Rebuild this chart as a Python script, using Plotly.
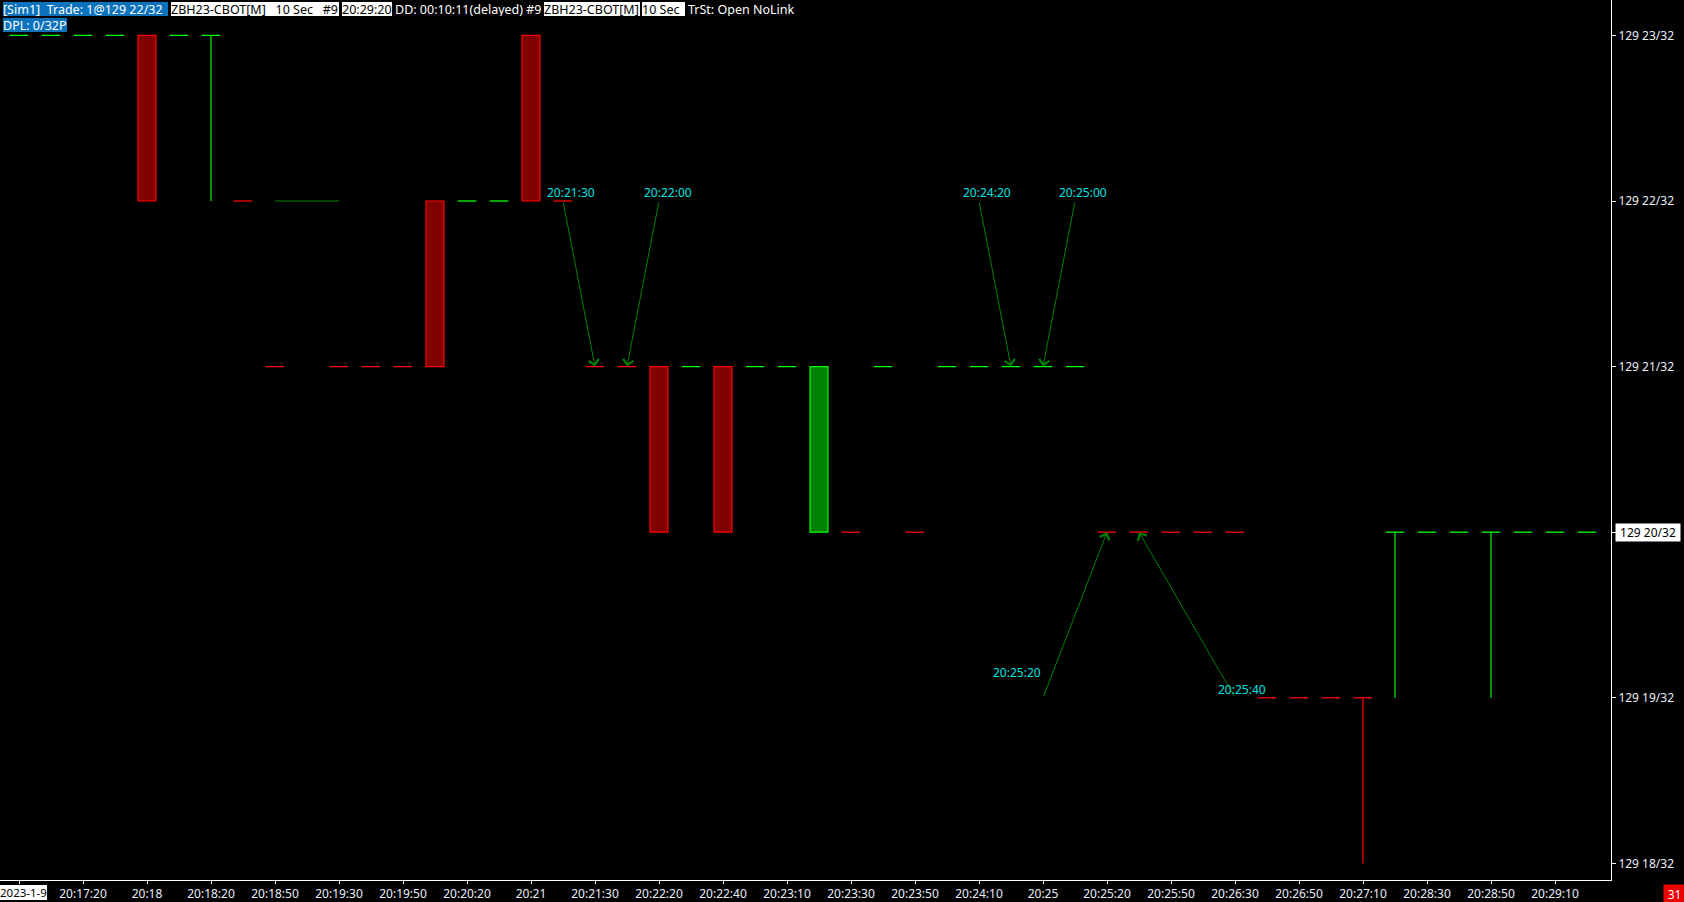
import plotly.graph_objects as go

# ---------------- data ----------------
HANDLE = 129  # price handle; levels below are in 32nds
bar_idx = list(range(50))
opens = [23, 23, 23, 23, 23, 23, 23, 22, 21, None,
         21, 21, 21, 22, 22, 22, 23, 22, 21, 21,
         21, 21, 21, 21, 21, 20, 20, 21, 20, 21,
         21, 21, 21, 21, 20, 20, 20, 20, 20, 19,
         19, 19, 19, 20, 20, 20, 20, 20, 20, 20]
highs = [23, 23, 23, 23, 23, 23, 23, 22, 21, None,
         21, 21, 21, 22, 22, 22, 23, 22, 21, 21,
         21, 21, 21, 21, 21, 21, 20, 21, 20, 21,
         21, 21, 21, 21, 20, 20, 20, 20, 20, 19,
         19, 19, 19, 20, 20, 20, 20, 20, 20, 20]
lows = [23, 23, 23, 23, 22, 23, 22, 22, 21, None,
        21, 21, 21, 21, 22, 22, 22, 22, 21, 21,
        20, 21, 20, 21, 21, 20, 20, 21, 20, 21,
        21, 21, 21, 21, 20, 20, 20, 20, 20, 19,
        19, 19, 18, 19, 20, 20, 19, 20, 20, 20]
closes = [23, 23, 23, 23, 22, 23, 23, 22, 21, None,
          21, 21, 21, 21, 22, 22, 22, 22, 21, 21,
          20, 21, 20, 21, 21, 21, 20, 21, 20, 21,
          21, 21, 21, 21, 20, 20, 20, 20, 20, 19,
          19, 19, 19, 20, 20, 20, 20, 20, 20, 20]
tick_dir = ['up', 'up', 'up', 'up', 'down', 'up', 'up', 'down', 'down', None,
            'down', 'down', 'down', 'down', 'up', 'up', 'down', 'down', 'down', 'down',
            'down', 'up', 'down', 'up', 'up', 'up', 'down', 'up', 'down', 'up',
            'up', 'up', 'up', 'up', 'down', 'down', 'down', 'down', 'down', 'down',
            'down', 'down', 'down', 'up', 'up', 'up', 'up', 'up', 'up', 'up']

x_tick_idx = list(range(0, 50, 2))
x_tick_labels = ["2023-1-9", "20:17:20", "20:18", "20:18:20", "20:18:50", "20:19:30",
                 "20:19:50", "20:20:20", "20:21", "20:21:30", "20:22:20", "20:22:40",
                 "20:23:10", "20:23:30", "20:23:50", "20:24:10", "20:25", "20:25:20",
                 "20:25:50", "20:26:30", "20:26:50", "20:27:10", "20:28:30", "20:28:50",
                 "20:29:10"]
y_tick_32 = [18, 19, 20, 21, 22, 23]
current_32 = 20

arrow_labels = ["20:21:30", "20:22:00", "20:24:20", "20:25:00", "20:25:20", "20:25:40"]
arrow_head_idx = [18, 19, 31, 32, 34, 35]
arrow_head_32 = [21, 21, 21, 21, 20, 20]
arrow_tail_idx = [17, 20, 30, 33, 32, 38]
arrow_tail_32 = [22, 22, 22, 22, 19, 19]

drawn_line_idx = [8, 10]
drawn_line_32 = [22, 22]

header_texts = ["[Sim1]\u00a0\u00a0Trade: 1@129 22/32",
                "ZBH23-CBOT[M]\u00a0\u00a0\u00a010 Sec\u00a0\u00a0\u00a0#9",
                "20:29:20",
                "DD: 00:10:11(delayed) #9",
                "ZBH23-CBOT[M]",
                "10 Sec",
                "TrSt: Open NoLink",
                "DPL: 0/32P"]
countdown_text = "31"


def price(n):
    return None if n is None else HANDLE + n / 32.0


def price_label(n):
    return f"{HANDLE} {n}/32"


# ---------------- style ----------------
UP_LINE, UP_FILL = "#00ff00", "#008000"
DN_LINE, DN_FILL = "#ff0000", "#800000"
ARROW_COL = "#008000"
LABEL_COL = "#00e0e0"
AXIS_TXT = "#e8eef8"
FONT = "Noto Sans"
BODY_W = 0.56
DASH_HALF = 0.29

PLOT_W, PLOT_H = 1611, 880

fig = go.Figure()

# wicks
for d, lc in (("up", UP_LINE), ("down", DN_LINE)):
    xs, ys = [], []
    for i, o, h, l, c, t in zip(bar_idx, opens, highs, lows, closes, tick_dir):
        if t != d or o is None:
            continue
        if h > max(o, c) or l < min(o, c):
            xs += [i, i, None]
            ys += [price(l), price(h), None]
    fig.add_trace(go.Scatter(x=xs, y=ys, mode="lines", line=dict(color=lc, width=1.2),
                             hoverinfo="skip"))

# flat bars (open == close) drawn as dashes
for d, lc in (("up", UP_LINE), ("down", DN_LINE)):
    xs, ys = [], []
    for i, o, c, t in zip(bar_idx, opens, closes, tick_dir):
        if t != d or o is None or o != c:
            continue
        xs += [i - DASH_HALF, i + DASH_HALF, None]
        ys += [price(c), price(c), None]
    fig.add_trace(go.Scatter(x=xs, y=ys, mode="lines", line=dict(color=lc, width=1.3),
                             hoverinfo="skip"))

# bodies
for d, lc, fc in (("up", UP_LINE, UP_FILL), ("down", DN_LINE, DN_FILL)):
    bx, bh, bb = [], [], []
    for i, o, c, t in zip(bar_idx, opens, closes, tick_dir):
        if t != d or o is None or o == c:
            continue
        bx.append(i)
        bb.append(price(min(o, c)))
        bh.append(abs(c - o) / 32.0)
    fig.add_trace(go.Bar(x=bx, y=bh, base=bb, width=BODY_W,
                         marker=dict(color=fc, line=dict(color=lc, width=1.2)),
                         hoverinfo="skip"))

# user-drawn horizontal line
fig.add_trace(go.Scatter(x=drawn_line_idx, y=[price(v) for v in drawn_line_32], mode="lines",
                         line=dict(color=ARROW_COL, width=1.2), hoverinfo="skip"))

annotations = []
# arrows
for hi, hn, ti, tn in zip(arrow_head_idx, arrow_head_32, arrow_tail_idx, arrow_tail_32):
    annotations.append(dict(x=hi, y=price(hn), xref="x", yref="y",
                            ax=ti, ay=price(tn), axref="x", ayref="y",
                            text="", showarrow=True, arrowhead=4, arrowsize=2.0,
                            arrowwidth=1, arrowcolor=ARROW_COL, standoff=0, startstandoff=0))
# arrow labels
label_pos = [("center", 8, 9), ("center", 9, 9), ("center", 8, 9), ("center", 8, 9),
             ("right", 0, 25), ("center", 7, 8)]
for txt, ti, tn, (xa, xs, ys) in zip(arrow_labels, arrow_tail_idx, arrow_tail_32, label_pos):
    annotations.append(dict(x=ti, y=price(tn), xref="x", yref="y", text=txt, showarrow=False,
                            xanchor=xa, yanchor="middle", xshift=xs, yshift=ys,
                            font=dict(family=FONT, size=12, color=LABEL_COL)))

# header boxes
hdr_style = [(3, 2, 165, 14, "#0b72bd", "white"),
             (171, 2, 168, 14, "white", "black"),
             (342, 2, 50, 14, "white", "black"),
             (395, 2, 147, 14, "black", "white"),
             (544, 2, 96, 14, "white", "black"),
             (642, 2, 43, 14, "white", "black"),
             (688, 2, 108, 14, "black", "white"),
             (3, 18, 64, 14, "#0b72bd", "white")]
for txt, (px, py, w, h, bg, fc) in zip(header_texts, hdr_style):
    annotations.append(dict(x=px / PLOT_W, y=1 - py / PLOT_H, xref="paper", yref="paper",
                            xanchor="left", yanchor="top", text=txt, showarrow=False,
                            width=w, height=h, align="left", valign="middle", bgcolor=bg,
                            borderpad=0, borderwidth=0,
                            font=dict(family=FONT, size=12.5, color=fc)))

# date label on first tick (white box at the left edge)
annotations.append(dict(x=0, y=-5 / PLOT_H, xref="paper", yref="paper",
                        xanchor="left", yanchor="top", text=x_tick_labels[0],
                        showarrow=False, bgcolor="white", borderpad=0, borderwidth=0,
                        font=dict(family=FONT, size=11.5, color="black")))
# current price box
annotations.append(dict(x=1 + 4 / PLOT_W, y=price(current_32), xref="paper", yref="y",
                        xanchor="left", yanchor="middle", text=price_label(current_32),
                        showarrow=False, bgcolor="white", width=64, height=17, align="center",
                        borderpad=0, font=dict(family=FONT, size=12, color="black")))
# countdown box
annotations.append(dict(x=1663 / PLOT_W, y=-4 / PLOT_H, xref="paper", yref="paper",
                        xanchor="left", yanchor="top", text=countdown_text, showarrow=False,
                        bgcolor="#ee0000", width=21, height=18, borderpad=0,
                        font=dict(family=FONT, size=12, color="white")))

fig.update_layout(
    width=1684, height=902,
    margin=dict(l=0, r=1684 - PLOT_W, t=0, b=902 - PLOT_H, pad=0),
    paper_bgcolor="black", plot_bgcolor="black",
    showlegend=False, barmode="overlay", hovermode=False,
    annotations=annotations,
    xaxis=dict(range=[-19 / 32, (PLOT_W - 19) / 32], tickmode="array",
               tickvals=x_tick_idx,
               ticktext=[""] + x_tick_labels[1:],
               ticks="outside", ticklen=3, tickcolor="white", showline=True,
               linecolor="white", linewidth=1, showgrid=False, zeroline=False,
               tickfont=dict(family=FONT, size=12, color=AXIS_TXT), fixedrange=True),
    yaxis=dict(side="right",
               range=[price(23 - (PLOT_H - 35.4) / 165.6), price(23 + 35.4 / 165.6)],
               tickmode="array", tickvals=[price(v) for v in y_tick_32],
               ticktext=["" if v == current_32 else price_label(v) for v in y_tick_32],
               ticks="outside", ticklen=4, tickcolor="white", showline=True,
               linecolor="white", linewidth=1, showgrid=False, zeroline=False,
               tickfont=dict(family=FONT, size=12, color=AXIS_TXT), fixedrange=True),
)

fig.write_html("out.html", config={"displayModeBar": False},
               post_script="document.body.style.margin='0';document.body.style.padding='0';"
                           "document.body.style.overflow='hidden';")
